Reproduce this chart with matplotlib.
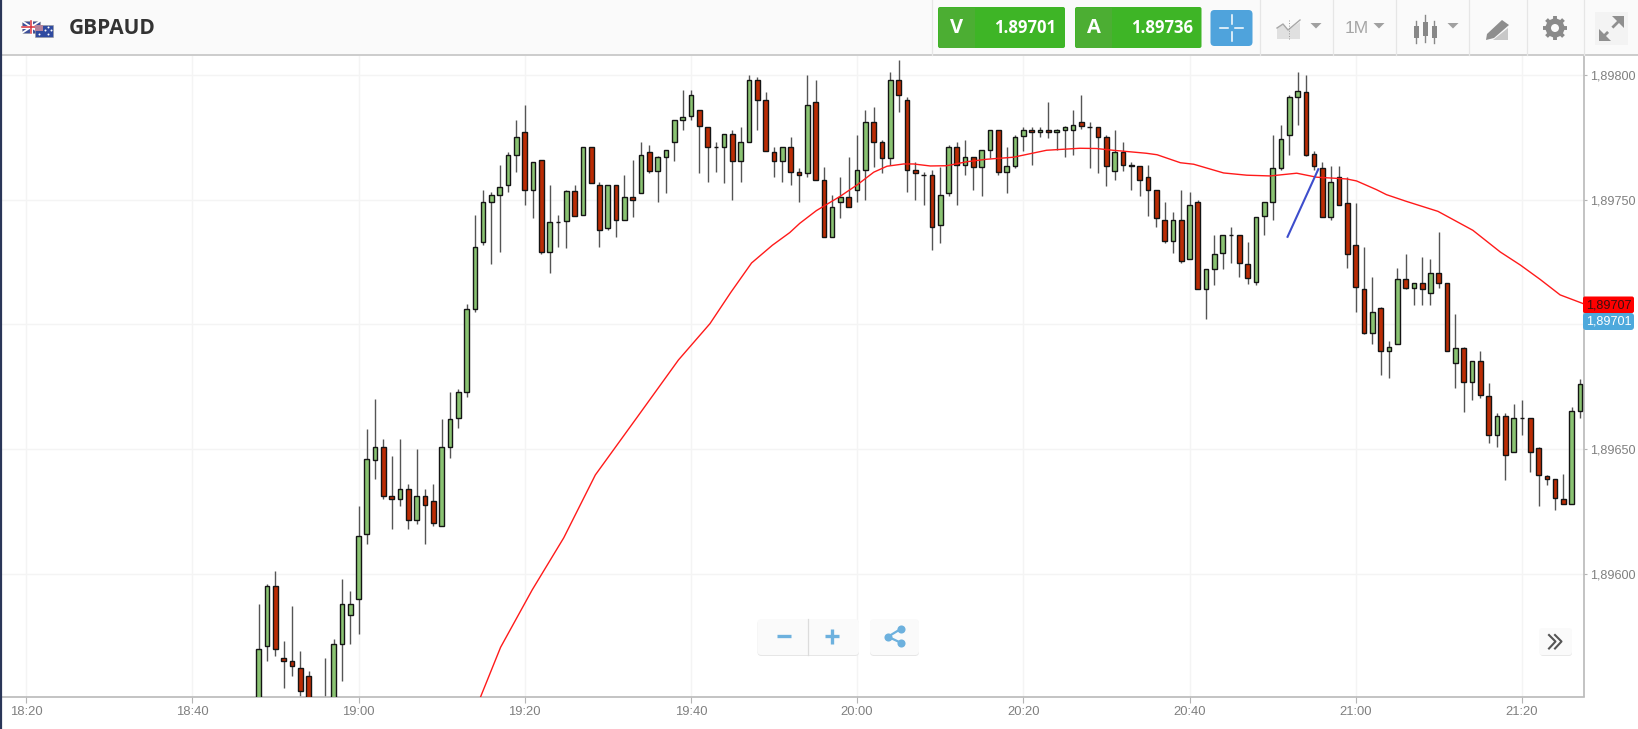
import numpy as np
import matplotlib
matplotlib.use("Agg")
import matplotlib.pyplot as plt
from matplotlib.patches import FancyBboxPatch, Rectangle, Polygon, Circle

W, H = 1638, 729

# prices as last five digits, 89650 = 1,89650; one candle per minute from 18:48
opens = [89540, 89571, 89595, 89566, 89565, 89562, 89559, 89545, 89535, 89540, 89572, 89583.5,
         89590, 89616, 89645.5, 89651, 89631, 89630, 89634, 89621.5, 89631, 89629,
         89619, 89651, 89662.5, 89673, 89706, 89733, 89749, 89752, 89756, 89768,
         89777, 89754, 89766, 89729, 89741, 89741.5, 89753.5, 89744, 89771, 89756,
         89738.5, 89756, 89742, 89751, 89752.5, 89769, 89761.5, 89767, 89773, 89782,
         89783.5, 89786, 89779, 89771, 89771, 89776.5, 89765.5, 89773, 89798, 89790,
         89769, 89765.5, 89771, 89761, 89760.5, 89789, 89758, 89735, 89749, 89751,
         89754, 89762, 89781, 89773, 89766.5, 89798, 89790, 89762, 89760, 89760,
         89740, 89752.5, 89771, 89764, 89767, 89763, 89770, 89778, 89761, 89763.5,
         89775.5, 89778, 89777, 89778, 89777, 89778, 89778, 89781, 89779, 89779,
         89775, 89761.5, 89769, 89764, 89763.5, 89759, 89754, 89742, 89733.5, 89742,
         89726, 89749, 89714, 89722, 89728.6, 89736, 89736, 89724, 89717, 89743.5,
         89749, 89762.6, 89776, 89791, 89793, 89768.5, 89762.6, 89743, 89759, 89748.6,
         89732, 89714, 89696.6, 89706.5, 89689.4, 89692, 89718, 89714.7, 89716.4, 89712.6,
         89720.6, 89716.6, 89684.5, 89690.4, 89677, 89685.4, 89671.4, 89655.5, 89663.4, 89648.8,
         89662.4, 89662.4, 89650.4, 89639, 89638, 89630, 89628, 89665.4]
highs = [89588, 89596, 89601, 89573, 89587, 89569, 89561, 89548, 89566, 89574, 89598, 89593,
         89627, 89658, 89670, 89654, 89647, 89654, 89636, 89650, 89634, 89636,
         89662, 89673, 89674, 89708, 89744, 89754, 89753, 89764, 89769, 89782,
         89788, 89765, 89766, 89756, 89744, 89754, 89756, 89771, 89771, 89757,
         89756, 89756, 89760, 89766, 89773, 89772, 89767.5, 89770, 89782, 89794,
         89794, 89786, 89779, 89773, 89776.5, 89778, 89779, 89800, 89799, 89793,
         89771, 89771, 89775, 89762.5, 89800, 89798, 89763, 89752, 89759, 89767,
         89776, 89786, 89787, 89774, 89801, 89806, 89791, 89765, 89761, 89762,
         89763, 89772, 89773, 89774, 89767, 89770, 89778, 89778, 89771, 89776,
         89779, 89779, 89779, 89789, 89778.5, 89779.5, 89786, 89792, 89781, 89779,
         89776, 89778, 89773, 89765, 89763.5, 89764, 89754, 89749, 89745, 89754,
         89753, 89750, 89722, 89736, 89736, 89739, 89736, 89733, 89743, 89749,
         89776, 89780, 89792, 89801, 89800, 89769.5, 89765, 89763.5, 89763.5, 89759,
         89748.5, 89731, 89719, 89707, 89693.4, 89722.5, 89728, 89716.4, 89727, 89726,
         89737, 89716.6, 89704, 89691, 89685.4, 89689.4, 89676.3, 89664.6, 89664.6, 89668,
         89669.6, 89662.4, 89651, 89639.6, 89638, 89640, 89667, 89678]
lows = [89535, 89565, 89567, 89554, 89559, 89548, 89540, 89535, 89530, 89535, 89557, 89572,
        89576, 89612, 89638, 89630, 89618, 89627, 89618, 89620, 89612, 89619,
        89619, 89646.5, 89658.5, 89671, 89705, 89732, 89724, 89729, 89753, 89761,
        89748, 89742.5, 89728, 89720.6, 89731, 89730.5, 89743.5, 89744, 89756.5, 89731,
        89738, 89735, 89742, 89743, 89752.5, 89760.5, 89749, 89752.5, 89765.5, 89778,
        89782, 89760.5, 89757, 89761, 89756.5, 89750, 89757, 89773, 89778, 89769.5,
        89759, 89757, 89756, 89749, 89759, 89758, 89735, 89735, 89742.5, 89747,
        89749, 89750, 89763, 89760.5, 89764, 89785, 89753, 89750, 89748, 89730,
        89732.5, 89751.5, 89748, 89760, 89754, 89751.5, 89766.5, 89760, 89752.5, 89762.5,
        89769.6, 89764, 89775, 89774.6, 89770, 89767, 89768, 89778.5, 89762.5, 89760.5,
        89755.6, 89758, 89761.5, 89754, 89751.6, 89743.5, 89739, 89732.5, 89728.6, 89724.5,
        89726, 89714, 89702, 89715.6, 89722, 89724.5, 89719, 89716, 89715.6, 89736,
        89741.7, 89762, 89768, 89780, 89767.5, 89762, 89743, 89742, 89748, 89722.5,
        89705, 89696, 89692, 89679.7, 89678.6, 89692, 89714, 89707.6, 89707.6, 89707.6,
        89714.7, 89689.4, 89674.5, 89664.7, 89669.6, 89670.5, 89652.4, 89650.7, 89637.6, 89648.8,
        89655.6, 89640.8, 89627, 89635.6, 89625.5, 89628, 89628, 89662.5]
closes = [89570, 89595, 89570, 89565, 89563, 89553, 89545, 89540, 89548, 89572, 89588, 89588,
          89615, 89646, 89651, 89631, 89630, 89634, 89621.5, 89631, 89627.5, 89620.5,
          89651, 89662, 89673, 89706, 89731, 89749, 89752, 89755, 89768, 89775,
          89754, 89765, 89729, 89741, 89741, 89753.5, 89743.5, 89771, 89756.5, 89738,
          89756, 89742, 89751, 89750, 89768, 89761.5, 89767, 89770, 89782, 89783,
          89792, 89779.5, 89771, 89771, 89776.5, 89765.5, 89773, 89798, 89790, 89769.5,
          89765.5, 89771, 89761, 89760, 89788, 89758, 89735, 89747, 89751, 89747,
          89762, 89781, 89773, 89766.5, 89798, 89792, 89762, 89760.5, 89760, 89739,
          89752, 89771, 89764, 89767, 89763, 89770, 89778, 89761, 89763.5, 89775,
          89778, 89777, 89778, 89777, 89778, 89779, 89780, 89779.5, 89779, 89775,
          89763.5, 89769, 89764, 89763.5, 89758, 89754, 89742.5, 89733.5, 89742, 89725.4,
          89748, 89714, 89722, 89728, 89736, 89736, 89724.5, 89718.6, 89743, 89749,
          89762.5, 89774.3, 89791, 89793.5, 89768, 89763.5, 89743, 89757, 89748, 89728,
          89715, 89696.6, 89705, 89689.4, 89691, 89718, 89714.7, 89716.4, 89714, 89720.6,
          89716.6, 89689.4, 89690.4, 89677, 89685.4, 89671.8, 89655.5, 89663.4, 89647.6, 89662.4,
          89662.4, 89648.8, 89639.6, 89638, 89630.5, 89628, 89665.4, 89676]

# red average line, minutes after 19:00 and price
ma_minutes = [14.7, 17.1, 20.9, 24.7, 28.5, 33.5, 38.5, 42.3, 44.8, 47.3, 49.8, 51.9, 53.1, 55.1, 57.9,
              60, 62, 63.6, 65.6, 66.8, 68.8, 70.8, 73.2, 75.6, 78.8, 82.8, 86.8, 88.8, 90.8,
              94.8, 96.1, 98.9, 100.5, 104.1, 106.9, 109.7, 112.9, 115.3, 118.9, 120.1, 122.5,
              123.7, 126.1, 129.9, 134.1, 137.4, 139.8, 142.2, 144.6, 147.3]
ma_values = [89550.7, 89570.5, 89593.5, 89614.4, 89639.6, 89662.6, 89685.7, 89700.3, 89712.8, 89724.6, 89731.7,
             89736.8, 89740.5, 89745.6, 89751.2, 89755.9, 89761, 89763.4, 89764.3, 89764.3, 89763.5,
             89763.6, 89765.2, 89766.2, 89767, 89769.8, 89770.6, 89770.5, 89769.8, 89768.6, 89768,
             89764.8, 89764.2, 89760.7, 89759.8, 89759.5, 89760.6, 89759, 89758.3, 89757.5, 89754,
             89752, 89749.3, 89745.3, 89737.7, 89729, 89723.8, 89718, 89711.8, 89708.4]

trend_minutes = [111.8, 115.5]
trend_values = [89735.1, 89762.2]

price_ticks = [89600, 89650, 89700, 89750, 89800]
# the 1,89700 label sits under the two price tags
price_labels = ["1,89600", "1,89650", "", "1,89750", "1,89800"]
time_ticks = [-40, -20, 0, 20, 40, 60, 80, 100, 120, 140]
time_labels = ["18:20", "18:40", "19:00", "19:20", "19:40", "20:00", "20:20", "20:40", "21:00", "21:20"]

pair = "GBPAUD"
sell_price = "1.89701"
buy_price = "1.89736"
ma_last = "1,89707"
price_last = "1,89701"

plt.rcParams["font.family"] = ["Liberation Sans", "DejaVu Sans"]

fig = plt.figure(figsize=(W / 100, H / 100), dpi=100, facecolor="white")

# chart area, pixel edges 2..1584 and 56..696.5
left, right, top, bottom = 2, 1584, 56, 696.5
ax = fig.add_axes([left / W, 1 - bottom / H, (right - left) / W, (bottom - top) / H])
ax.set_xlim((left - 358.5) / 8.31, (right - 358.5) / 8.31)
ax.set_ylim(89600 - (bottom - 573.7) * 0.401, 89600 + (573.7 - top) * 0.401)

ax.set_xticks(time_ticks)
ax.set_xticklabels(time_labels)
ax.yaxis.tick_right()
ax.set_yticks(price_ticks)
ax.set_yticklabels(price_labels)
ax.tick_params(axis="x", length=4, width=0.8, color="#b5b5b5", labelcolor="#808080", labelsize=9.4, pad=3)
ax.tick_params(axis="y", length=2.2, width=0.8, color="#b5b5b5", labelcolor="#808080", labelsize=9.1, pad=2)
ax.grid(True, color="#f4f4f4", linewidth=1.0)
ax.set_axisbelow(True)
for side in ["left", "top"]:
    ax.spines[side].set_visible(False)
for side in ["right", "bottom"]:
    ax.spines[side].set_color("#b9b9b9")
    ax.spines[side].set_linewidth(1.2)

minutes = np.arange(len(opens)) - 12
o = np.array(opens)
c = np.array(closes)
up = c >= o
ax.vlines(minutes, lows, highs, color="#555555", linewidth=1.0, zorder=2)
ax.bar(minutes[up], (c - o)[up], bottom=o[up], width=0.56, color="#8ac372",
       edgecolor="#141414", linewidth=1.0, zorder=3)
ax.bar(minutes[~up], (c - o)[~up], bottom=o[~up], width=0.56, color="#bb2c04",
       edgecolor="#141414", linewidth=1.0, zorder=3)

ax.plot(ma_minutes, ma_values, color="#ff1a1a", linewidth=1.0, zorder=4)
ax.plot(trend_minutes, trend_values, color="#3d4dcc", linewidth=1.5, zorder=5)

# header and buttons, drawn in pixels
ui = fig.add_axes([0, 0, 1, 1], zorder=10)
ui.set_xlim(0, W)
ui.set_ylim(H, 0)
ui.axis("off")
ui.patch.set_alpha(0)


def box(x0, y0, x1, y1, color, round_=3, edge="none", z=1):
    p = FancyBboxPatch((x0 + round_, y0 + round_), x1 - x0 - 2 * round_, y1 - y0 - 2 * round_,
                       boxstyle="round,pad=%f,rounding_size=%f" % (round_, round_),
                       facecolor=color, edgecolor=edge, linewidth=0.8, zorder=z)
    ui.add_patch(p)


ui.add_patch(Rectangle((0, 0), W, 55, facecolor="#fafafa", edgecolor="none", zorder=0))
ui.plot([0, W], [55, 55], color="#c4c4c4", linewidth=1.2, zorder=1)
ui.plot([0.5, 0.5], [0, H], color="#2a3658", linewidth=1.6, zorder=1)
for x in [932, 1260, 1333, 1396, 1469, 1527, 1584]:
    ui.plot([x, x], [0, 55], color="#e6e6e6", linewidth=0.9, zorder=1)

# flags
ui.add_patch(Rectangle((22, 21), 18, 12, facecolor="#3d4f9a", edgecolor="#999999", linewidth=0.4, zorder=2))
ui.plot([22, 40], [21, 33], color="white", linewidth=1.3, zorder=3)
ui.plot([22, 40], [33, 21], color="white", linewidth=1.3, zorder=3)
ui.plot([31, 31], [21, 33], color="white", linewidth=2.2, zorder=3)
ui.plot([22, 40], [27, 27], color="white", linewidth=2.2, zorder=3)
ui.plot([31, 31], [21, 33], color="#d8323c", linewidth=1.1, zorder=4)
ui.plot([22, 40], [27, 27], color="#d8323c", linewidth=1.1, zorder=4)
ui.add_patch(Rectangle((35, 24.5), 18, 12.5, facecolor="#2f4aa0", edgecolor="#999999", linewidth=0.4, zorder=5))
ui.add_patch(Rectangle((35, 24.5), 8, 6, facecolor="#b5829a", edgecolor="none", zorder=6))
ui.scatter([39, 48, 48, 45, 51], [34, 27, 34, 30, 30], s=2, color="white", linewidths=0, zorder=6)

ui.text(69, 28.5, pair, family=["Open Sans", "DejaVu Sans"], fontsize=15, fontweight="bold",
        color="#333333", ha="left", va="center", zorder=3)

# quote buttons
for x0, x1, label, value in [(938, 1065, "V", sell_price), (1075, 1201.5, "A", buy_price)]:
    box(x0, 7, x1, 48, "#3eb526", 2, z=2)
    ui.add_patch(Rectangle((x0 + 1, 7.5), 36, 40, facecolor="#4cae33", edgecolor="none", zorder=3))
    ui.text(x0 + 19, 28, label, family=["Open Sans", "DejaVu Sans"], fontsize=14.5, fontweight="bold",
            color="white", ha="center", va="center", zorder=4)
    ui.text(x0 + 87, 27.5, value, family=["Open Sans", "DejaVu Sans"], fontsize=12, fontweight="bold",
            color="white", ha="center", va="center", zorder=4)

# crosshair button
box(1210.5, 10, 1252.5, 46, "#4fa3dc", 4, z=2)
for xs, ys in [([1220, 1228], [28, 28]), ([1235, 1243], [28, 28]), ([1231.5, 1231.5], [15, 24]), ([1231.5, 1231.5], [32, 41])]:
    ui.plot(xs, ys, color="white", linewidth=1.1, zorder=3)

# toolbar icons
ui.add_patch(Polygon([(1277, 39), (1277, 28), (1283, 24), (1288, 30), (1300, 22), (1300, 39)],
                     facecolor="#e0e0e0", edgecolor="none", zorder=2))
ui.plot([1277, 1283, 1288, 1300], [28, 24, 30, 20], color="#a8a8a8", linewidth=1.0, zorder=3)
ui.plot([1289, 1289], [20, 40], color="#999999", linewidth=0.7, linestyle=":", zorder=3)
for x in [1316, 1379, 1453]:
    ui.add_patch(Polygon([(x - 5.5, 23), (x + 5.5, 23), (x, 28.5)], facecolor="#a0a0a0", edgecolor="none", zorder=3))
ui.text(1357, 28.5, "1M", fontsize=12.5, color="#a5a5a5", ha="center", va="center", zorder=3)

for x, y0, y1, w0, w1 in [(1416, 26, 38, 21, 43), (1425, 22, 36, 15, 42), (1434, 26, 38, 21, 43)]:
    ui.plot([x, x], [w0, w1], color="#888888", linewidth=1.0, zorder=3)
    ui.add_patch(Rectangle((x - 2.5, y0), 5, y1 - y0, facecolor="#888888", edgecolor="none", zorder=4))

# pencil
ui.add_patch(Polygon([(1487, 34), (1502, 20), (1509, 25), (1494, 38), (1486, 40)],
                     facecolor="#8e8e8e", edgecolor="none", zorder=3))
ui.add_patch(Polygon([(1493, 40), (1508, 28), (1508, 40)], facecolor="#c8c8c8", edgecolor="none", zorder=2))

# gear
for a in np.arange(0, np.pi, np.pi / 4):
    ui.plot([1555 - 12 * np.cos(a), 1555 + 12 * np.cos(a)], [28 - 12 * np.sin(a), 28 + 12 * np.sin(a)],
            color="#8a8a8a", linewidth=2.8, solid_capstyle="butt", zorder=3)
ui.add_patch(Circle((1555, 28), 9.5, facecolor="#8a8a8a", edgecolor="none", zorder=4))
ui.add_patch(Circle((1555, 28), 4, facecolor="#fafafa", edgecolor="none", zorder=5))

# expand
ui.add_patch(Rectangle((1595, 12), 33, 33, facecolor="#f3f3f3", edgecolor="none", zorder=2))
ui.plot([1601, 1622], [39, 18], color="#8f8f8f", linewidth=2.0, linestyle=(0, (3.6, 2.2)), zorder=3)
ui.add_patch(Polygon([(1612, 16), (1624, 16), (1624, 28)], facecolor="#8f8f8f", edgecolor="none", zorder=3))
ui.add_patch(Polygon([(1599, 29), (1599, 41), (1611, 41)], facecolor="#8f8f8f", edgecolor="none", zorder=3))

# price tags
box(1583, 296.5, 1634, 313, "#ff0000", 2, z=3)
box(1583, 313, 1634, 330, "#4ea9dc", 3, z=3)
ui.text(1608.5, 305.5, ma_last, fontsize=9.1, color="#3a1010", ha="center", va="center", zorder=4)
ui.text(1608.5, 321.5, price_last, fontsize=9.1, color="white", ha="center", va="center", zorder=4)

# zoom and share
for x0, x1 in [(757.5, 859), (870, 919)]:
    box(x0, 620, x1, 656, "#e6e6e6", 4, z=2)
    box(x0, 619, x1, 655, "#fafafa", 4, z=3)
ui.plot([807.7, 807.7], [619, 655], color="#dcdcdc", linewidth=0.9, zorder=4)
ui.plot([777, 791], [636, 636], color="#6db1de", linewidth=2.4, solid_capstyle="butt", zorder=4)
ui.plot([824.5, 839], [636, 636], color="#6db1de", linewidth=2.4, solid_capstyle="butt", zorder=4)
ui.plot([831.7, 831.7], [629, 643.5], color="#6db1de", linewidth=2.4, solid_capstyle="butt", zorder=4)
ui.plot([900.7, 888, 900.7], [629, 636.7, 642.7], color="#6db1de", linewidth=1.6, zorder=4)
ui.scatter([888, 900.7, 900.7], [636.7, 629, 642.7], s=34, color="#6db1de", linewidths=0, zorder=5)

box(1540, 629, 1572, 656, "#e8e8e8", 3, z=2)
box(1539, 628, 1572, 655, "#fafafa", 3, z=3)
ui.plot([1549, 1555.5, 1549], [635, 641.5, 648.5], color="#555555", linewidth=1.5, zorder=4)
ui.plot([1555, 1561.5, 1555], [635, 641.5, 648.5], color="#555555", linewidth=1.5, zorder=4)

fig.savefig("out.png", dpi=100)
